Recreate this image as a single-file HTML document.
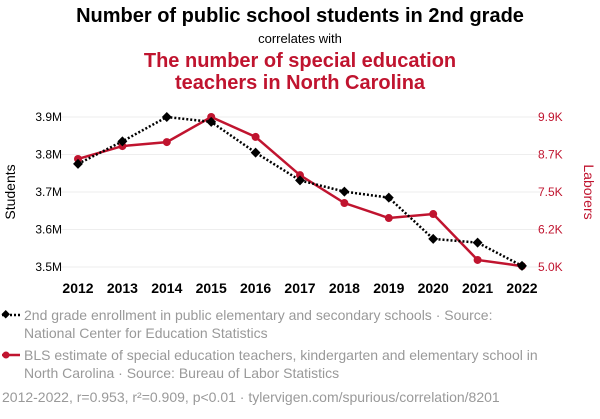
<!DOCTYPE html>
<html><head><meta charset="utf-8"><style>
body{margin:0;background:#fff;width:600px;height:414px;overflow:hidden;font-family:"Liberation Sans",sans-serif}
</style></head><body>
<svg width="600" height="414" font-family="Liberation Sans, sans-serif">
<text x="300" y="22" text-anchor="middle" font-size="20" font-weight="bold" fill="#000">Number of public school students in 2nd grade</text>
<text x="300" y="43" text-anchor="middle" font-size="13" fill="#000">correlates with</text>
<text x="300" y="67" text-anchor="middle" font-size="20" font-weight="bold" fill="#c0142f">The number of special education</text>
<text x="300" y="89" text-anchor="middle" font-size="20" font-weight="bold" fill="#c0142f">teachers in North Carolina</text>
<g id="grid"></g><g id="axes"></g><g id="marks"></g>
<text transform="translate(15,192) rotate(-90)" text-anchor="middle" font-size="14" fill="#000">Students</text>
<text transform="translate(584,192) rotate(90)" text-anchor="middle" font-size="14" fill="#c0142f">Laborers</text>
<g>
<line x1="2" y1="315" x2="20" y2="315" stroke="#000" stroke-width="2.5" stroke-dasharray="2,2"/>
<rect x="2" y="311" width="6" height="6" fill="#000" transform="rotate(45 5 315)"/>
<text x="24" y="320" font-size="14" fill="#999">2nd grade enrollment in public elementary and secondary schools · Source:</text>
<text x="24" y="338" font-size="14" fill="#999">National Center for Education Statistics</text></g>
<g>
<line x1="2" y1="355" x2="20" y2="355" stroke="#c0142f" stroke-width="2.5"/>
<circle cx="6" cy="355" r="3.5" fill="#c0142f"/>
<text x="24" y="360" font-size="14" fill="#999">BLS estimate of special education teachers, kindergarten and elementary school in</text>
<text x="24" y="378" font-size="14" fill="#999">North Carolina · Source: Bureau of Labor Statistics</text></g>
<text x="2" y="402" font-size="14" fill="#999">2012-2022, r=0.953, r²=0.909, p&lt;0.01 · tylervigen.com/spurious/correlation/8201</text>
</svg>
<script>
const years=[2012,2013,2014,2015,2016,2017,2018,2019,2020,2021,2022];
const students=[3.775,3.835,3.9,3.887,3.805,3.731,3.701,3.685,3.575,3.565,3.503];
const teachers=[8.53,8.95,9.08,9.9,9.25,8.0,7.09,6.6,6.73,5.23,5.03];
const leftTicks=[3.5,3.6,3.7,3.8,3.9];
const leftLabels=["3.5M","3.6M","3.7M","3.8M","3.9M"];
const rightTicks=[5.0,6.225,7.45,8.675,9.9];
const rightLabels=["5.0K","6.2K","7.5K","8.7K","9.9K"];
const NS="http://www.w3.org/2000/svg";
const x=v=>78+(v-2012)*44.4;
const yl=v=>267-(v-3.5)*375;
const yr=v=>267-(v-5.0)/4.9*150;
function mk(t,a,p){const e=document.createElementNS(NS,t);for(const k in a)e.setAttribute(k,a[k]);p.appendChild(e);return e;}
const grid=document.getElementById('grid'),axes=document.getElementById('axes'),marks=document.getElementById('marks');
leftTicks.forEach((v,i)=>{
 const g=mk('line',{x1:60,x2:540,y1:yl(v),y2:yl(v),stroke:'#eee'},grid);
 
 
 const t=mk('text',{x:62,y:yl(v)+4,'text-anchor':'end','font-size':12,fill:'#000'},axes);t.textContent=leftLabels[i];
 
 
});
rightTicks.forEach((v,i)=>{
 const t=mk('text',{x:538,y:yr(v)+4,'font-size':12,fill:'#c0142f'},axes);t.textContent=rightLabels[i];
 
 
});
years.forEach(v=>{
 const t=mk('text',{x:x(v),y:293,'text-anchor':'middle','font-size':14,'font-weight':'bold',fill:'#000'},axes);t.textContent=v;
 
 
});
const rl=mk('polyline',{points:years.map((v,i)=>x(v)+','+yr(teachers[i])).join(' '),fill:'none',stroke:'#c0142f','stroke-width':2.5},marks);


const bl=mk('polyline',{points:years.map((v,i)=>x(v)+','+yl(students[i])).join(' '),fill:'none',stroke:'#000','stroke-width':2.5,'stroke-dasharray':'2,2'},marks);


years.forEach((v,i)=>{
 const c=mk('circle',{cx:x(v),cy:yr(teachers[i]),r:4,fill:'#c0142f'},marks);
 
 
 const d=mk('rect',{x:x(v)-3.5,y:yl(students[i])-3.5,width:7,height:7,fill:'#000',transform:`rotate(45 ${x(v)} ${yl(students[i])})`},marks);
 
 
});
</script>
</body></html>
